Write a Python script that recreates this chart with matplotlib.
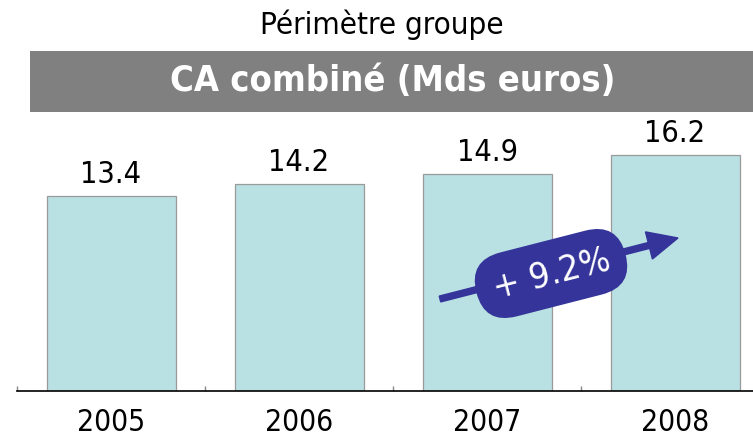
import matplotlib
matplotlib.use("Agg")
import matplotlib.pyplot as plt
from matplotlib.patches import Rectangle, FancyBboxPatch, FancyArrow
from matplotlib.transforms import Affine2D
import math

years = ["2005", "2006", "2007", "2008"]
values = [13.4, 14.2, 14.9, 16.2]
value_labels = ["13.4", "14.2", "14.9", "16.2"]
subtitle = "Périmètre groupe"
banner_title = "CA combiné (Mds euros)"
growth_label = "+ 9.2%"

W, H = 753, 439
DPI = 100
fig = plt.figure(figsize=(W / DPI, H / DPI), dpi=DPI)
FONT = dict(family="DejaVu Sans", stretch="condensed")

def px(x, y):
    """top-left pixel -> figure fraction"""
    return x / W, 1 - y / H

# axes placement
ax_left, ax_right = 17, 753
base_y, top_y = 391.7, 120
cat_w = 188.0
px_per_unit = (391.7 - 156.0) / 16.2
ax = fig.add_axes([ax_left / W, 1 - base_y / H, (ax_right - ax_left) / W, (base_y - top_y) / H])
xs = list(range(len(years)))
ax.bar(xs, values, width=129 / cat_w, color="#B9E0E3", edgecolor="#9A9A9A", linewidth=0.9, zorder=2)
ax.set_xlim(-0.5, -0.5 + (ax_right - ax_left) / cat_w)
ax.set_ylim(0, (base_y - top_y) / px_per_unit)
for s in ["left", "right", "top"]:
    ax.spines[s].set_visible(False)
ax.spines["bottom"].set_linewidth(1.2)
ax.spines["bottom"].set_color("black")
ax.set_yticks([])
ax.set_xticks(xs)
ax.set_xticklabels(years, fontsize=21.5, **FONT)
ax.tick_params(axis="x", which="major", length=0, pad=12)
ax.set_xticks([x - 0.5 for x in xs], minor=True)
ax.tick_params(axis="x", which="minor", length=3.5, direction="in", color="#888888", width=1)
for x, v, lab in zip(xs, values, value_labels):
    ax.annotate(lab, (x, v), xytext=(0, 10), textcoords="offset points",
                ha="center", va="baseline", fontsize=22, **FONT)

# subtitle
fig.text(*px(382, 25), subtitle, ha="center", va="center", fontsize=22.5, **FONT)

# banner
bx0, by0 = px(30, 112.7)
bx1, by1 = px(753, 52)
fig.patches.append(Rectangle((bx0, by0), bx1 - bx0, by1 - by0, transform=fig.transFigure,
                             facecolor="#808080", edgecolor="none", zorder=1))
fig.text(*px(393, 81), banner_title, ha="center", va="center", fontsize=26,
         color="white", fontweight="bold", zorder=3, **FONT)

# growth arrow + pill (inches coordinates)
def inch(x, y):
    return x / DPI, (H - y) / DPI

ax0, ay0 = inch(440, 300)
ax1, ay1 = inch(678, 239)
arrow = FancyArrow(ax0, ay0, ax1 - ax0, ay1 - ay0, width=0.06, head_width=0.28,
                   head_length=0.30, length_includes_head=True,
                   transform=fig.dpi_scale_trans, color="#34349A", zorder=5)
fig.patches.append(arrow)

angle = math.degrees(math.atan2(ay1 - ay0, ax1 - ax0))
cx, cy = inch(551, 274.5)
L, T = 1.54, 0.66
pill = FancyBboxPatch((cx - L / 2 + T / 2, cy), L - T, 0.0,
                      boxstyle=f"round,pad={T/2},rounding_size={T/2}",
                      transform=Affine2D().rotate_deg_around(cx, cy, angle) + fig.dpi_scale_trans,
                      facecolor="#34349A", edgecolor="none", zorder=6)
fig.patches.append(pill)
tx, ty = inch(552, 274)
fig.text(tx, ty, growth_label, transform=fig.dpi_scale_trans, rotation=angle,
         rotation_mode="anchor", ha="center", va="center", fontsize=26,
         color="white", zorder=7, **FONT)

fig.savefig("out.png", dpi=DPI)
